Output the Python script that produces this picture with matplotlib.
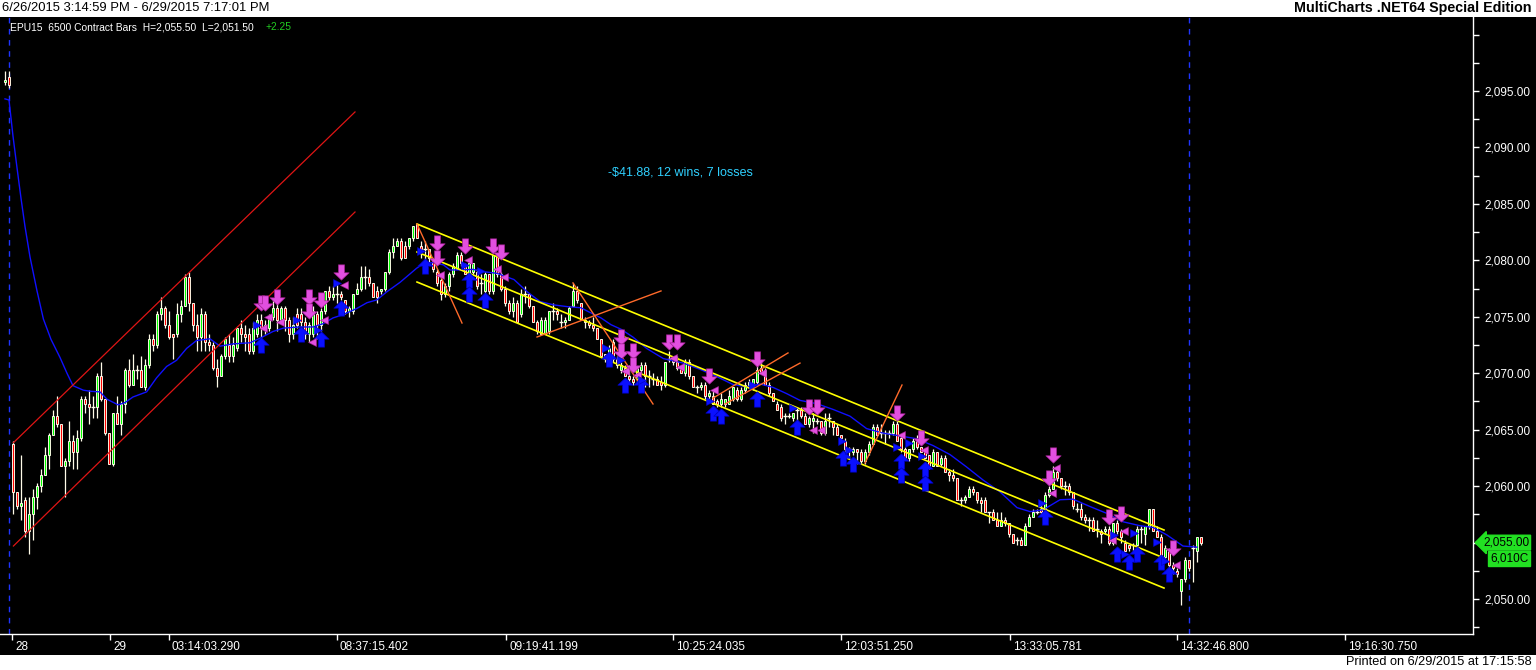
import numpy as np
import matplotlib
matplotlib.use("Agg")
import matplotlib.pyplot as plt
from matplotlib.patches import Rectangle
from matplotlib.path import Path
from matplotlib.transforms import blended_transform_factory
from matplotlib.ticker import FixedLocator, FuncFormatter

plt.rcParams["font.family"] = ["Liberation Sans", "DejaVu Sans"]

# ---- bar data (6500 contract bars, EPU15) ----
opens = [
    2095.75, 2096.25, 2063.75, 2059.5, 2058.25, 2058.75, 2056.0, 2057.5, 2059.0, 2060.0,
    2061.0, 2062.75, 2064.5, 2066.25, 2065.5, 2061.75, 2062.25, 2064.0, 2063.0, 2064.25,
    2067.75, 2067.25, 2067.0, 2067.0, 2069.75, 2067.75, 2064.75, 2062.0, 2066.5, 2065.5,
    2067.25, 2070.25, 2069.0, 2070.25, 2070.25, 2068.75, 2070.75, 2073.0, 2072.5, 2075.25,
    2075.75, 2074.25, 2073.5, 2073.5, 2075.25, 2076.0, 2078.5, 2076.25, 2074.25, 2073.25,
    2075.25, 2072.75, 2072.5, 2070.5, 2069.75, 2071.5, 2072.5, 2071.5, 2072.25, 2074.0,
    2073.5, 2073.5, 2072.0, 2073.5, 2074.75, 2074.25, 2074.0, 2075.0, 2075.75, 2074.75,
    2075.75, 2074.75, 2073.5, 2075.25, 2075.25, 2074.5, 2073.5, 2073.5, 2075.25, 2074.25,
    2075.5, 2077.25, 2076.75, 2077.0, 2077.0, 2076.5, 2075.5, 2075.5, 2077.0, 2077.5,
    2078.5, 2078.5, 2078.0, 2077.25, 2077.25, 2077.5, 2079.0, 2080.75, 2081.25, 2081.75,
    2081.25, 2081.25, 2082.0, 2083.25, 2081.25, 2081.0, 2081.0, 2080.0, 2079.0, 2078.25,
    2077.0, 2077.75, 2078.75, 2079.25, 2080.5, 2079.5, 2078.75, 2079.0, 2079.0, 2078.0,
    2077.25, 2078.75, 2077.25, 2080.5, 2078.75, 2077.5, 2076.25, 2075.5, 2076.25, 2075.25,
    2077.0, 2077.0, 2076.0, 2074.5, 2073.5, 2073.5, 2073.75, 2075.5, 2075.5, 2074.5,
    2074.5, 2074.75, 2076.0, 2077.25, 2076.25, 2074.75, 2074.5, 2074.25, 2074.0, 2073.0,
    2071.75, 2071.75, 2072.75, 2071.25, 2070.25, 2070.5, 2069.75, 2069.5, 2069.5, 2070.25,
    2070.75, 2069.75, 2069.5, 2069.5, 2069.25, 2069.0, 2071.25, 2071.25, 2071.0, 2070.5,
    2070.0, 2071.0, 2069.75, 2068.75, 2068.75, 2069.0, 2068.0, 2068.0, 2067.5, 2067.25,
    2067.25, 2067.25, 2067.75, 2068.5, 2067.75, 2068.5, 2069.0, 2068.75, 2069.25, 2070.5,
    2070.25, 2069.0, 2068.25, 2067.25, 2067.0, 2066.25, 2066.25, 2066.0, 2066.75, 2066.75,
    2066.25, 2065.5, 2065.75, 2065.75, 2065.75, 2064.75, 2066.0, 2065.75, 2065.25, 2064.5,
    2064.0, 2063.25, 2063.0, 2063.25, 2063.0, 2062.25, 2063.0, 2063.75, 2065.25, 2064.75,
    2064.75, 2064.75, 2064.75, 2065.5, 2064.25, 2063.25, 2062.5, 2063.25, 2064.0, 2063.5,
    2063.0, 2062.75, 2061.75, 2063.0, 2062.0, 2062.5, 2061.25, 2061.0, 2060.75, 2058.75,
    2058.75, 2059.0, 2059.75, 2059.5, 2058.75, 2058.75, 2057.75, 2057.75, 2057.0, 2056.5,
    2057.0, 2056.75, 2055.75, 2055.25, 2055.25, 2054.75, 2056.5, 2057.25, 2057.75, 2058.0,
    2058.0, 2059.25, 2059.75, 2061.25, 2060.75, 2060.0, 2060.0, 2059.5, 2058.0, 2058.0,
    2057.25, 2057.0, 2057.0, 2056.25, 2056.0, 2056.0, 2056.25, 2055.0, 2056.75, 2056.0,
    2055.0, 2054.75, 2054.75, 2054.75, 2056.25, 2055.75, 2056.5, 2058.0, 2056.0, 2055.5,
    2053.75, 2054.25, 2053.0, 2052.5, 2050.75, 2051.75, 2053.5, 2054.5, 2054.25, 2055.5,
]
highs = [
    2096.75, 2096.75, 2064.0, 2059.5, 2062.75, 2059.0, 2059.0, 2059.75, 2060.25, 2061.5,
    2063.5, 2064.75, 2066.75, 2068.0, 2065.5, 2062.5, 2065.75, 2064.5, 2065.0, 2068.0,
    2068.0, 2068.5, 2068.0, 2070.0, 2071.0, 2067.75, 2064.75, 2066.5, 2068.0, 2067.5,
    2070.5, 2071.25, 2071.75, 2070.75, 2071.5, 2071.25, 2073.5, 2073.5, 2075.5, 2076.75,
    2076.0, 2075.5, 2073.5, 2076.25, 2076.5, 2078.75, 2079.0, 2076.25, 2075.25, 2075.75,
    2075.5, 2073.5, 2072.75, 2071.25, 2071.75, 2073.25, 2073.5, 2073.25, 2074.0, 2074.75,
    2074.25, 2074.0, 2074.5, 2075.25, 2075.25, 2074.75, 2075.25, 2076.5, 2076.5, 2076.0,
    2076.0, 2075.0, 2075.0, 2075.75, 2075.75, 2075.0, 2074.5, 2076.0, 2075.5, 2075.75,
    2077.25, 2077.75, 2077.75, 2078.0, 2077.25, 2076.5, 2076.0, 2077.0, 2078.0, 2079.5,
    2079.5, 2079.25, 2078.0, 2077.75, 2077.5, 2079.0, 2081.0, 2082.0, 2082.0, 2082.0,
    2081.75, 2082.0, 2083.0, 2083.25, 2081.75, 2081.75, 2081.0, 2080.25, 2079.25, 2078.5,
    2078.0, 2079.0, 2079.75, 2080.75, 2080.75, 2079.75, 2079.75, 2079.75, 2079.25, 2078.75,
    2079.0, 2078.75, 2080.5, 2080.5, 2079.0, 2077.75, 2076.5, 2076.75, 2076.5, 2077.5,
    2077.75, 2077.0, 2076.0, 2074.75, 2075.0, 2075.0, 2075.5, 2076.25, 2075.75, 2075.25,
    2075.0, 2076.0, 2078.0, 2077.75, 2076.25, 2075.0, 2074.75, 2075.0, 2074.0, 2073.0,
    2071.75, 2072.5, 2073.0, 2071.5, 2071.0, 2070.75, 2070.75, 2069.75, 2070.5, 2071.0,
    2071.0, 2070.25, 2070.0, 2069.75, 2069.75, 2071.0, 2072.0, 2071.5, 2071.5, 2070.75,
    2071.25, 2071.25, 2069.75, 2069.0, 2069.25, 2069.25, 2068.5, 2068.5, 2067.75, 2068.25,
    2067.75, 2068.5, 2068.75, 2068.75, 2068.75, 2069.25, 2069.5, 2069.5, 2070.75, 2071.0,
    2070.5, 2069.25, 2068.25, 2067.5, 2067.25, 2066.5, 2066.5, 2066.5, 2067.0, 2067.0,
    2066.5, 2066.25, 2066.5, 2066.0, 2065.75, 2066.5, 2066.5, 2065.75, 2065.5, 2064.5,
    2064.25, 2063.5, 2063.5, 2063.25, 2063.25, 2063.25, 2064.0, 2065.5, 2065.5, 2065.5,
    2065.0, 2065.0, 2065.75, 2065.75, 2064.5, 2063.5, 2063.25, 2064.25, 2064.5, 2063.5,
    2063.25, 2062.75, 2063.25, 2063.0, 2062.75, 2062.75, 2061.5, 2061.5, 2060.75, 2059.0,
    2059.25, 2060.0, 2060.0, 2059.5, 2059.0, 2059.0, 2057.75, 2058.0, 2057.75, 2057.75,
    2057.25, 2056.75, 2055.75, 2055.5, 2055.5, 2056.75, 2057.5, 2058.0, 2058.0, 2058.5,
    2059.5, 2060.0, 2061.75, 2061.75, 2060.75, 2060.5, 2060.25, 2059.5, 2058.5, 2058.5,
    2057.5, 2057.25, 2057.25, 2057.0, 2056.25, 2056.5, 2056.5, 2056.75, 2057.0, 2056.25,
    2055.25, 2054.75, 2055.0, 2056.5, 2056.5, 2056.5, 2058.0, 2058.0, 2056.5, 2055.75,
    2054.75, 2054.5, 2053.25, 2052.75, 2051.75, 2053.75, 2053.5, 2054.75, 2055.5, 2055.5,
]
lows = [
    2095.5, 2095.25, 2057.5, 2058.0, 2057.0, 2055.5, 2054.0, 2055.25, 2058.0, 2059.5,
    2061.0, 2061.5, 2064.5, 2065.25, 2061.75, 2059.0, 2061.75, 2061.5, 2061.5, 2064.0,
    2066.5, 2065.5, 2066.0, 2066.0, 2067.5, 2064.5, 2062.0, 2061.75, 2065.5, 2064.5,
    2066.5, 2068.75, 2069.0, 2069.5, 2068.75, 2068.5, 2070.5, 2072.0, 2072.25, 2074.75,
    2074.0, 2073.0, 2071.25, 2073.25, 2074.5, 2076.0, 2075.5, 2073.75, 2072.0, 2072.0,
    2072.0, 2072.0, 2070.25, 2068.75, 2069.75, 2071.25, 2071.0, 2071.0, 2072.0, 2072.75,
    2072.0, 2071.75, 2071.75, 2073.25, 2073.0, 2073.5, 2073.75, 2074.75, 2073.75, 2074.5,
    2073.75, 2072.75, 2073.0, 2074.0, 2073.75, 2073.0, 2072.75, 2073.25, 2073.0, 2073.75,
    2075.25, 2076.5, 2076.5, 2076.25, 2076.5, 2075.25, 2075.0, 2075.25, 2077.0, 2077.25,
    2077.5, 2077.75, 2076.75, 2076.25, 2077.0, 2077.25, 2078.75, 2080.25, 2081.25, 2080.0,
    2080.25, 2081.0, 2081.75, 2082.0, 2080.25, 2079.75, 2079.75, 2079.0, 2077.75, 2076.5,
    2076.75, 2077.25, 2078.5, 2079.25, 2079.5, 2078.75, 2078.75, 2078.75, 2077.5, 2077.0,
    2077.0, 2077.0, 2077.0, 2078.5, 2077.25, 2076.0, 2075.25, 2075.0, 2074.5, 2075.0,
    2076.25, 2075.75, 2074.5, 2073.5, 2073.5, 2073.5, 2073.5, 2074.75, 2074.75, 2074.0,
    2074.0, 2074.75, 2076.0, 2076.25, 2074.75, 2074.0, 2074.0, 2073.75, 2073.0, 2071.5,
    2071.0, 2071.5, 2071.0, 2070.5, 2070.0, 2069.75, 2069.25, 2069.0, 2069.25, 2070.0,
    2068.75, 2068.75, 2069.0, 2069.0, 2068.5, 2068.75, 2071.0, 2070.75, 2070.25, 2070.0,
    2069.75, 2069.5, 2068.75, 2068.25, 2068.5, 2067.75, 2067.75, 2067.25, 2067.0, 2067.0,
    2067.0, 2067.25, 2067.5, 2067.5, 2067.5, 2068.25, 2068.75, 2068.5, 2069.0, 2070.0,
    2069.0, 2068.0, 2067.5, 2066.75, 2065.75, 2065.5, 2066.0, 2065.75, 2065.75, 2066.0,
    2065.5, 2065.25, 2064.75, 2065.5, 2064.5, 2064.5, 2065.25, 2064.5, 2064.5, 2064.0,
    2063.0, 2062.5, 2062.75, 2062.0, 2062.0, 2062.0, 2062.75, 2063.75, 2064.5, 2064.25,
    2063.75, 2064.25, 2064.5, 2064.0, 2063.0, 2062.5, 2062.25, 2063.0, 2063.25, 2063.0,
    2062.5, 2061.5, 2061.75, 2061.75, 2061.75, 2061.25, 2060.5, 2060.5, 2058.75, 2058.25,
    2058.5, 2059.0, 2059.25, 2058.5, 2057.75, 2057.75, 2056.75, 2057.0, 2056.5, 2056.5,
    2056.5, 2055.5, 2055.0, 2054.75, 2054.75, 2054.75, 2056.5, 2057.25, 2057.5, 2057.5,
    2057.75, 2059.0, 2059.75, 2060.5, 2059.75, 2059.25, 2059.25, 2058.0, 2057.75, 2057.0,
    2056.75, 2056.0, 2056.0, 2055.5, 2055.0, 2055.75, 2054.75, 2054.75, 2055.75, 2055.0,
    2054.25, 2054.25, 2054.25, 2054.75, 2055.0, 2054.75, 2056.25, 2056.0, 2055.5, 2053.75,
    2053.5, 2052.75, 2052.25, 2052.0, 2049.5, 2051.5, 2052.5, 2051.5, 2053.25, 2054.75,
]
closes = [
    2096.0, 2095.5, 2059.5, 2058.25, 2058.5, 2056.0, 2057.5, 2059.0, 2060.0, 2061.0,
    2062.75, 2064.5, 2066.25, 2065.5, 2061.75, 2062.25, 2064.0, 2063.0, 2064.25, 2067.75,
    2067.25, 2067.0, 2067.0, 2069.75, 2067.75, 2064.75, 2062.0, 2066.5, 2065.5, 2067.25,
    2070.25, 2069.0, 2070.25, 2070.25, 2068.75, 2070.75, 2073.0, 2072.5, 2075.25, 2075.75,
    2074.25, 2073.25, 2073.25, 2075.25, 2076.0, 2078.5, 2076.25, 2074.25, 2073.25, 2075.25,
    2072.75, 2072.5, 2070.5, 2069.75, 2071.5, 2073.0, 2071.5, 2072.5, 2074.0, 2073.5,
    2073.25, 2072.0, 2074.0, 2074.75, 2074.0, 2074.0, 2075.0, 2075.75, 2074.75, 2075.75,
    2074.75, 2073.5, 2074.25, 2074.25, 2074.5, 2073.5, 2074.25, 2075.5, 2074.25, 2075.5,
    2077.25, 2076.75, 2077.0, 2077.0, 2076.75, 2075.5, 2075.75, 2077.0, 2077.5, 2078.5,
    2078.5, 2078.0, 2076.75, 2076.75, 2077.5, 2079.0, 2080.75, 2081.25, 2081.75, 2080.25,
    2080.25, 2082.0, 2083.0, 2082.0, 2081.0, 2081.0, 2080.25, 2079.25, 2078.0, 2077.0,
    2077.75, 2078.75, 2079.5, 2080.5, 2079.75, 2078.75, 2079.75, 2079.75, 2077.75, 2078.0,
    2078.75, 2077.25, 2080.5, 2078.75, 2077.5, 2076.25, 2075.5, 2076.25, 2074.5, 2077.0,
    2077.0, 2076.0, 2074.5, 2073.75, 2074.75, 2074.75, 2075.5, 2075.5, 2075.25, 2074.5,
    2074.75, 2075.75, 2077.25, 2076.5, 2074.75, 2074.5, 2074.25, 2074.0, 2073.0, 2071.5,
    2071.25, 2072.25, 2071.25, 2070.75, 2070.75, 2069.75, 2069.5, 2069.25, 2070.5, 2070.75,
    2069.75, 2069.75, 2069.5, 2069.0, 2069.0, 2071.0, 2071.25, 2071.0, 2070.5, 2070.0,
    2071.0, 2069.75, 2068.75, 2068.75, 2069.0, 2068.0, 2068.25, 2067.25, 2067.25, 2067.75,
    2067.75, 2068.0, 2068.75, 2067.75, 2068.5, 2069.0, 2069.25, 2069.5, 2070.25, 2070.0,
    2069.0, 2068.25, 2067.5, 2066.75, 2066.0, 2066.25, 2066.25, 2066.5, 2066.75, 2066.25,
    2065.5, 2066.0, 2066.0, 2065.75, 2064.75, 2065.75, 2066.0, 2065.25, 2064.5, 2064.25,
    2063.25, 2063.25, 2063.25, 2063.0, 2062.25, 2063.0, 2063.75, 2065.25, 2064.5, 2064.75,
    2064.75, 2064.75, 2065.5, 2064.0, 2063.25, 2062.5, 2063.25, 2064.0, 2063.5, 2063.0,
    2062.5, 2061.75, 2063.0, 2061.75, 2062.5, 2061.25, 2061.0, 2060.75, 2058.75, 2058.75,
    2059.0, 2059.75, 2059.5, 2058.75, 2058.5, 2057.75, 2057.75, 2057.0, 2056.5, 2057.0,
    2056.75, 2055.75, 2055.0, 2055.25, 2054.75, 2056.5, 2057.25, 2057.75, 2057.75, 2057.75,
    2059.25, 2059.75, 2061.25, 2060.75, 2060.0, 2060.0, 2059.5, 2058.25, 2058.0, 2057.25,
    2057.0, 2057.0, 2056.0, 2056.25, 2055.75, 2056.25, 2055.0, 2056.75, 2056.0, 2055.5,
    2054.25, 2054.5, 2054.75, 2056.25, 2056.25, 2056.5, 2058.0, 2056.0, 2055.5, 2053.75,
    2054.5, 2053.0, 2052.75, 2052.25, 2051.75, 2053.5, 2052.75, 2054.5, 2055.5, 2055.0,
]

# ---- blue average line (bar index, price) ----
ma_idx = [0, 1, 2, 3, 4, 5, 6.25, 8, 9.6, 11.5, 13.75, 15.5, 17, 19.6, 21.5, 23.75, 25.5,
          28.3, 30, 32, 35.4, 37.9, 40.4, 42.9, 45.4, 47.9, 51.25, 53.75, 57, 61.25, 63.75,
          67, 69.6, 73.75, 77, 79.6, 82, 84.6, 88, 90.5, 93, 95.4, 98.75, 101.25, 102.9,
          104.6, 107, 109.6, 111.25, 113.75, 117, 119.6, 123, 127.25, 130.6, 133.75, 137.25,
          140.6, 144, 145.6, 149, 151.5, 154, 157, 160.4, 164.6, 169.6, 173.75, 178, 182,
          185.4, 188.75, 192, 195.4, 198.75, 203, 207, 211.25, 215.4, 219.5, 223.75, 227.9,
          232, 236.25, 240.4, 244.5, 248.75, 253, 256.25, 259.5, 263.75, 267, 271.25, 275.4,
          279.5, 283.75, 287, 290.4, 294.5, 298]
ma_val = [2094.3, 2094.2, 2091.0, 2088.2, 2085.5, 2083.0, 2080.3, 2077.3, 2074.8, 2073.0,
          2071.4, 2070.0, 2068.9, 2068.5, 2068.4, 2068.35, 2067.7, 2067.2, 2067.4, 2067.9,
          2068.35, 2069.6, 2070.6, 2071.15, 2072.2, 2072.9, 2073.05, 2072.4, 2072.6, 2072.7,
          2073.1, 2073.7, 2074.0, 2074.1, 2074.1, 2074.4, 2074.9, 2075.2, 2075.75, 2076.25,
          2076.5, 2077.2, 2078.05, 2078.8, 2079.3, 2079.7, 2079.8, 2079.6, 2079.15, 2079.15,
          2079.2, 2079.0, 2078.85, 2078.3, 2077.2, 2076.35, 2076.05, 2075.9, 2075.8, 2075.5,
          2074.9, 2074.3, 2073.9, 2073.2, 2072.2, 2071.3, 2070.9, 2070.35, 2069.7, 2069.0,
          2068.8, 2069.05, 2068.75, 2068.2, 2067.6, 2067.3, 2066.8, 2066.2, 2065.1, 2064.7,
          2064.45, 2064.2, 2063.6, 2062.8, 2061.7, 2060.55, 2059.5, 2058.1, 2057.75, 2057.9,
          2058.8, 2058.85, 2058.2, 2057.6, 2056.85, 2056.5, 2056.35, 2055.7, 2054.7, 2054.6]

# ---- drawn trend channels (start/end index, start/end price) ----
red_x = [2.1, 87.5]
red_upper = [2063.85, 2093.14]
red_lower = [2054.7, 2084.28]

yellow_x = [103, 289.75]
yellow_top = [2083.22, 2056.12]
yellow_mid = [2080.74, 2053.64]
yellow_low = [2078.08, 2050.98]

orange_x0 = [103, 133, 142, 177, 180, 215]
orange_y0 = [2083.22, 2073.21, 2078.0, 2067.8, 2067.28, 2062.05]
orange_x1 = [114.25, 164, 162, 195.75, 198.75, 224.25]
orange_y1 = [2074.45, 2077.29, 2067.28, 2071.8, 2070.9, 2068.96]

# ---- strategy markers ----
sell_idx = [64, 65, 68, 76, 76, 79, 84, 108, 108, 115, 122, 124, 154, 154, 157, 157, 166, 168,
            176, 188, 201, 203, 223, 229, 262, 261, 276, 279, 292]
sell_px = [2076.25, 2076.25, 2076.75, 2076.75, 2075.5, 2076.5, 2079.0, 2081.5, 2080.25, 2081.25,
           2081.25, 2080.75, 2073.25, 2072.0, 2072.0, 2070.75, 2072.75, 2072.75, 2069.75, 2071.25,
           2067.0, 2067.0, 2066.5, 2064.25, 2062.75, 2060.75, 2057.25, 2057.5, 2054.5]
buy_idx = [64, 74, 79, 84, 105, 116, 116, 120, 151, 155, 159, 177, 179, 188, 198, 209.5, 212,
           224, 224, 230, 230, 260, 278, 281, 283, 289, 291]
buy_px = [2072.5, 2073.5, 2073.0, 2075.75, 2079.5, 2078.25, 2077.0, 2076.5, 2071.25, 2069.0,
          2069.0, 2066.5, 2066.25, 2067.75, 2065.25, 2062.5, 2062.0, 2062.25, 2061.0, 2061.5,
          2060.25, 2057.25, 2054.0, 2053.25, 2054.0, 2053.25, 2052.25]
cover_idx = [64.5, 65.75, 68.75, 76.75, 79.75, 84.75, 108.75, 115.75, 123, 124.75, 155, 158,
             167, 168.75, 177.25, 189.25, 202, 204, 224, 229.75, 262.75, 261.75, 276.75, 279.75,
             292.75]
cover_px = [2074.0, 2075.0, 2074.5, 2072.75, 2074.7, 2077.8, 2078.7, 2080.0, 2079.25, 2078.5,
            2070.2, 2069.85, 2071.35, 2070.55, 2068.5, 2070.0, 2065.0, 2065.0, 2064.5, 2063.2,
            2061.6, 2059.4, 2055.2, 2056.0, 2053.0]
exit_idx = [63, 73, 78.25, 83, 104, 115, 119, 150.25, 154, 159.25, 176.25, 187, 197, 209.25,
            211, 223, 226, 229.25, 259.25, 277.25, 282.25, 280, 288, 290]
exit_px = [2074.3, 2074.7, 2073.8, 2078.0, 2080.8, 2079.6, 2079.05, 2072.25, 2071.2, 2069.4,
           2067.55, 2069.0, 2066.9, 2064.0, 2063.2, 2063.5, 2063.8, 2062.7, 2058.5, 2055.7,
           2055.85, 2054.0, 2055.05, 2053.4]

session_breaks = [1.1, 296]
x_tick_idx = [1.75, 26.25, 41, 83, 125.25, 167, 209, 251.25, 293, 335]
x_tick_labels = ["28", "29", "03:14:03.290", "08:37:15.402", "09:19:41.199", "10:25:24.035",
                 "12:03:51.250", "13:33:05.781", "14:32:46.800", "19:16:30.750"]

last_price = 2055.0
volume_label = "6,010C"

W, H = 1536, 670
fig = plt.figure(figsize=(W / 100, H / 100), dpi=100)
fig.patch.set_facecolor("white")
fig.add_artist(Rectangle((0, 15 / H), 1, (H - 17 - 15) / H, transform=fig.transFigure,
                         facecolor="black", edgecolor="none", zorder=-10))

ax = fig.add_axes([0, 36 / H, 1473 / W, (634 - 17) / H])
ax.set_facecolor("black")
ax.set_xlim(-1.25, 367.0)
ax.set_ylim(2046.91, 2101.55)
for side in ["left", "top"]:
    ax.spines[side].set_visible(False)
for side in ["right", "bottom"]:
    ax.spines[side].set_color("white")
    ax.spines[side].set_linewidth(1.0)

# candles: cream frame with a green/red core
idx = np.arange(len(closes))
o = np.array(opens)
hi = np.array(highs)
lo = np.array(lows)
c = np.array(closes)
up = c > o
dn = c < o
flat = c == o
ax.vlines(idx, lo, hi, color="#fffbe8", lw=0.9, zorder=2)
ax.bar(idx[up], (c - o)[up], bottom=o[up], width=0.74, color="#00ff00",
       edgecolor="#fffbe8", linewidth=0.67, zorder=3)
ax.bar(idx[dn], (o - c)[dn], bottom=c[dn], width=0.74, color="#ff0000",
       edgecolor="#fffbe8", linewidth=0.67, zorder=3)
ax.hlines(c[flat], idx[flat] - 0.45, idx[flat] + 0.45, color="#fffbe8", lw=1.0, zorder=3)

# session separators
for sb in session_breaks:
    ax.axvline(sb, color="#1f35ff", lw=1.0, ls=(0, (4, 4)), zorder=1)

# average line
ax.plot(ma_idx, ma_val, color="#1010ff", lw=1.0, zorder=4)

# channels
ax.plot(red_x, red_upper, color="#e01515", lw=0.9, zorder=4)
ax.plot(red_x, red_lower, color="#e01515", lw=0.9, zorder=4)
for yy in (yellow_top, yellow_mid, yellow_low):
    ax.plot(yellow_x, yy, color="#ffff00", lw=1.2, zorder=4)
for x0, y0, x1, y1 in zip(orange_x0, orange_y0, orange_x1, orange_y1):
    ax.plot([x0, x1], [y0, y1], color="#ff6a2a", lw=1.0, zorder=4)


def arrow_path(direction):
    verts = [(-0.5, 0.02), (0.0, 0.5), (0.5, 0.02), (0.2, 0.02), (0.2, -0.5), (-0.2, -0.5),
             (-0.2, 0.02), (-0.5, 0.02)]
    if direction == "down":
        verts = [(x, -y) for x, y in verts]
    codes = [Path.MOVETO] + [Path.LINETO] * (len(verts) - 2) + [Path.CLOSEPOLY]
    return Path(verts, codes)


ax.plot(sell_idx, sell_px, ls="none", marker=arrow_path("down"), markersize=11,
        markerfacecolor="#e24fe0", markeredgecolor="#a0208f", markeredgewidth=0.5, zorder=6)
ax.plot(buy_idx, buy_px, ls="none", marker=arrow_path("up"), markersize=11,
        markerfacecolor="#0a10ff", markeredgecolor="#0000c0", markeredgewidth=0.5, zorder=6)
ax.plot(cover_idx, cover_px, ls="none", marker="<", markersize=5.5,
        markerfacecolor="#e24fe0", markeredgecolor="#a0208f", markeredgewidth=0.4, zorder=6)
ax.plot(exit_idx, exit_px, ls="none", marker=">", markersize=5.5,
        markerfacecolor="#0a10ff", markeredgecolor="#0000c0", markeredgewidth=0.4, zorder=6)

# strategy result text
ax.text(168.75, 2087.74, "-$41.88, 12 wins, 7 losses", color="#2fd0ff", fontsize=9,
        ha="center", va="center", zorder=7)

# right price axis
ax.yaxis.tick_right()
ax.yaxis.set_major_locator(FixedLocator(np.arange(2047.5, 2100.1, 2.5)))


def price_fmt(v, pos):
    if abs(v % 5) < 1e-6 and 2050 <= v <= 2095 and abs(v - last_price) > 1e-6:
        return f"{v:,.2f}"
    return ""


ax.yaxis.set_major_formatter(FuncFormatter(price_fmt))
ax.tick_params(axis="y", colors="white", labelcolor="white", length=4, width=1, pad=4,
               labelsize=8.5)

# time axis
ax.set_xticks(x_tick_idx)
ax.set_xticklabels([])
ax.tick_params(axis="x", colors="white", length=4, width=1, direction="out")
trans_x = blended_transform_factory(ax.transData, ax.transAxes)
for xi, lab in zip(x_tick_idx, x_tick_labels):
    ax.annotate(lab, xy=(xi, 0), xycoords=trans_x, xytext=(3, -7), textcoords="offset pixels",
                ha="left", va="top", color="white", fontsize=8.5, annotation_clip=False)

# last price / volume tags
trans_y = blended_transform_factory(ax.transAxes, ax.transData)
ax.text(1.0 + 10 / 1473, last_price, f"{last_price:,.2f}", transform=trans_y, ha="left",
        va="center", fontsize=8.5, color="black", zorder=10, clip_on=False,
        bbox=dict(boxstyle="larrow,pad=0.12", fc="#22e022", ec="#22e022"))
ax.text(1.0 + 17 / 1473, last_price - 1.4, volume_label, transform=trans_y, ha="left",
        va="center", fontsize=8.5, color="black", zorder=10, clip_on=False,
        bbox=dict(boxstyle="square,pad=0.15", fc="#22e022", ec="#22e022"))

# header inside the plot
fig.text(10 / W, 1 - 27 / H, "EPU15  6500 Contract Bars  H=2,055.50  L=2,051.50",
         color="white", fontsize=7.4, ha="left", va="center")
fig.text(266 / W, 1 - 27 / H, "+2.25", color="#22cc22", fontsize=7.4, ha="left", va="center")

# window title bar and footer
fig.text(2 / W, 1 - 8 / H, "6/26/2015 3:14:59 PM - 6/29/2015 7:17:01 PM", color="black",
         fontsize=9.4, ha="left", va="center")
fig.text(1 - 4 / W, 1 - 8 / H, "MultiCharts .NET64 Special Edition", color="black",
         fontsize=10.3, fontweight="bold", ha="right", va="center")
fig.text(1 - 4 / W, 8 / H, "Printed on 6/29/2015 at 17:15:58", color="black",
         fontsize=9.2, ha="right", va="center")

fig.savefig("out.png", dpi=100, facecolor=fig.get_facecolor())
plt.close(fig)
